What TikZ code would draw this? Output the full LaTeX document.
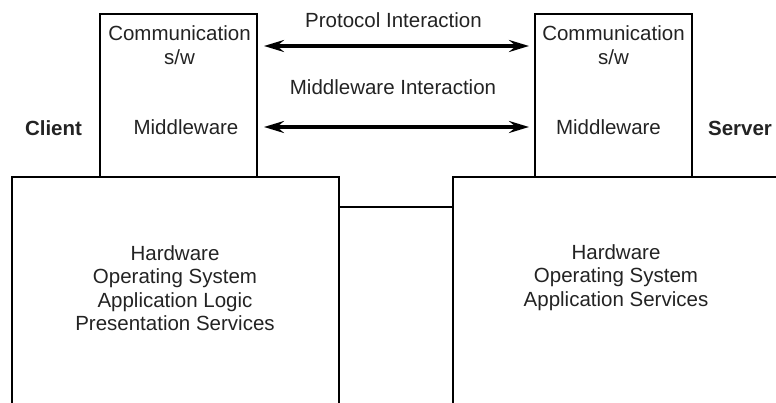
\documentclass[tikz,border=0pt]{standalone}
\usepackage{fontspec}
\setmainfont{Liberation Sans}
\usepackage{tikz}
\usetikzlibrary{arrows.meta, positioning}
\definecolor{textgray}{RGB}{35,35,35}
\tikzset{
  swbox/.style={
    rectangle, draw=black, line width=2pt,
    minimum width=157pt, minimum height=163pt, inner sep=0pt},
  hostbox/.style={
    rectangle, draw=none, inner sep=0pt, minimum height=226pt},
  txt/.style={
    text=textgray, align=center, inner sep=0pt,
    font=\fontsize{20.5}{23.5}\selectfont},
  side/.style={txt, font=\fontsize{20.5}{23.5}\selectfont\bfseries},
  outline/.style={draw=black, line width=2pt},
  arrow/.style={{Stealth[length=20pt,width=12pt,inset=7pt]}-{Stealth[length=20pt,width=12pt,inset=7pt]},
                line width=3.2pt, shorten <=6pt, shorten >=5pt}
}
\begin{document}
\begin{tikzpicture}[x=1pt, y=-1pt]
  \useasboundingbox (0,0) rectangle (776,403);

  %% Software boxes
  \node[swbox] (commL) at (178.5,95.5) {};
  \node[swbox] (commR) at (613.5,95.5) {};

  %% Host boxes (open at the bottom)
  \node[hostbox, minimum width=327pt] (hostL) at (175.5,290) {};
  \node[hostbox, minimum width=323pt] (hostR) at (614.5,290) {};
  \draw[outline] (hostL.south west) |- (hostL.north east) -- (hostL.south east);
  \draw[outline] (hostR.south west) |- (hostR.north east);

  %% Texts in the software boxes
  \node[txt] (swL) at (179.5,45) {Communication\\s/w};
  \node[txt] (swR) at (613.5,45) {Communication\\s/w};
  \node[txt] (mwL) at (186,127) {Middleware};
  \node[txt] (mwR) at (608.5,127) {Middleware};

  %% Texts in the host boxes
  \node[txt] (stackL) at (175,288)
    {Hardware\\Operating System\\Application Logic\\Presentation Services};
  \node[txt] (stackR) at (616,277.5)
    {Hardware\\Operating System\\Application Services};

  %% Side labels
  \node[side] (client) at (53.5,128) {Client};
  \node[side] (server) at (740,128) {Server};

  %% Interaction labels
  \node[txt] (proto) at (393.5,20) {Protocol Interaction};
  \node[txt] (mwint) at (393,87) {Middleware Interaction};

  %% Arrows
  \draw[arrow] ([yshift=-33pt]commL.north east) -- ([yshift=-33pt]commR.north west);
  \draw[arrow] ([yshift=-114pt]commL.north east) -- ([yshift=-114pt]commR.north west);

  %% Network link
  \draw[outline] ([yshift=-30pt]hostL.north east) -- ([yshift=-30pt]hostR.north west);

\end{tikzpicture}
\end{document}
